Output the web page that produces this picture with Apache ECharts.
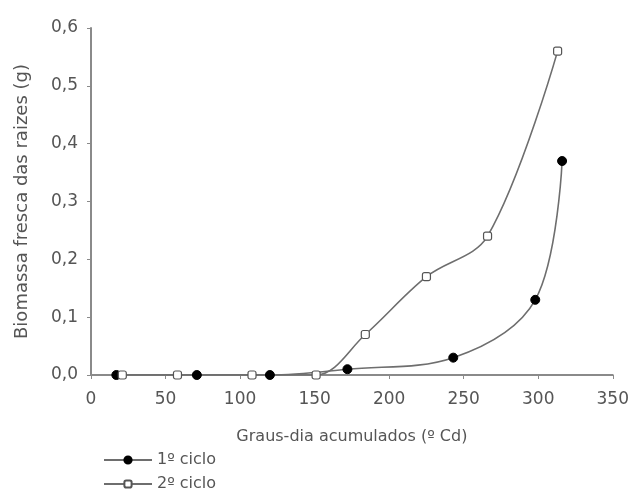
<!DOCTYPE html>
<html><head><meta charset="utf-8">
<script src="https://cdn.jsdelivr.net/npm/echarts@6/dist/echarts.min.js"></script>
<style>html,body{margin:0;padding:0;background:#fff}#c{width:632px;height:489px}</style>
</head><body><div id="c"></div>
<script>
const ciclo1X = [17, 71, 120, 172, 243, 298, 316];
const ciclo1Y = [0.0, 0.0, 0.0, 0.01, 0.03, 0.13, 0.37];
const ciclo2X = [21, 58, 108, 151, 184, 225, 266, 313];
const ciclo2Y = [0.0, 0.0, 0.0, 0.0, 0.07, 0.17, 0.24, 0.56];
const seriesNames = ['1º ciclo', '2º ciclo'];
const xTicks = [0, 50, 100, 150, 200, 250, 300, 350];
const yTicks = [0, 0.1, 0.2, 0.3, 0.4, 0.5, 0.6];

const chart = echarts.init(document.getElementById('c'), null, {renderer: 'canvas'});
const txt = '#555';
const ax = '#8a8a8a';
const font = 'DejaVu Sans, Verdana, sans-serif';
const legendBase = {
  orient: 'horizontal', left: 98, itemWidth: 48, itemHeight: 9, itemGap: 10,
  textStyle: {color: txt, fontSize: 16, fontFamily: font}
};
chart.setOption({
  animation: false,
  textStyle: {fontFamily: font},
  grid: {left: 91, right: 18, top: 28, bottom: 114},
  xAxis: {
    type: 'value', min: xTicks[0], max: xTicks[xTicks.length - 1], interval: 50,
    name: 'Graus-dia acumulados (º Cd)', nameLocation: 'middle', nameGap: 54,
    nameTextStyle: {color: txt, fontSize: 16, fontFamily: font},
    axisLine: {show: true, lineStyle: {color: ax, width: 2}},
    axisTick: {show: true, length: 4, lineStyle: {color: ax}},
    splitLine: {show: false},
    axisLabel: {color: txt, fontSize: 17, margin: 16, fontFamily: font}
  },
  yAxis: {
    type: 'value', min: yTicks[0], max: yTicks[yTicks.length - 1], interval: 0.1,
    name: 'Biomassa fresca das raizes (g)', nameLocation: 'middle', nameGap: 60,
    nameTextStyle: {color: txt, fontSize: 18, fontFamily: font},
    axisLine: {show: true, lineStyle: {color: ax, width: 2}},
    axisTick: {show: true, length: 4, lineStyle: {color: ax}},
    splitLine: {show: false},
    axisLabel: {color: txt, fontSize: 17, margin: 13, fontFamily: font,
      formatter: v => v.toFixed(1).replace('.', ',')}
  },
  legend: [
    Object.assign({}, legendBase, {top: 447, data: [seriesNames[0]]}),
    Object.assign({}, legendBase, {top: 471, data: [seriesNames[1]]})
  ],
  series: [
    {
      name: seriesNames[0], type: 'line', smooth: 0.35,
      data: ciclo1X.map((x, i) => [x, ciclo1Y[i]]),
      symbol: 'circle', symbolSize: 9,
      lineStyle: {color: '#6e6e6e', width: 1.6},
      itemStyle: {color: '#000', borderColor: '#000', borderWidth: 1}
    },
    {
      name: seriesNames[1], type: 'line', smooth: 0.35,
      data: ciclo2X.map((x, i) => [x, ciclo2Y[i]]),
      symbol: 'roundRect', symbolSize: 8,
      lineStyle: {color: '#6e6e6e', width: 1.6},
      itemStyle: {color: '#fff', borderColor: '#555', borderWidth: 1.2}
    }
  ]
});
</script></body></html>
